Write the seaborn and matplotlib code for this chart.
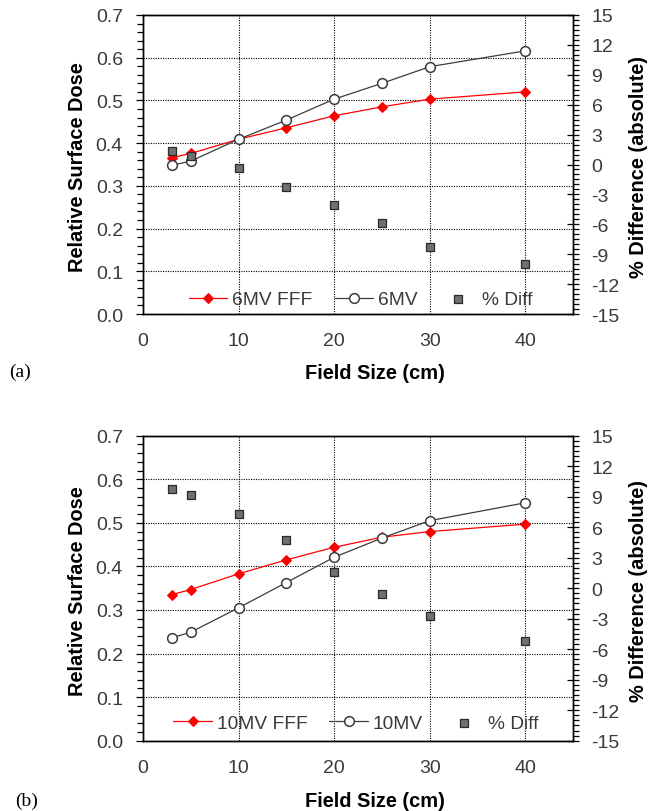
import matplotlib
matplotlib.use("Agg")
import matplotlib.pyplot as plt
from matplotlib.ticker import MultipleLocator, FixedLocator
import seaborn as sns

# Field sizes (cm) shared by both energies
field_size = [3, 5, 10, 15, 20, 25, 30, 40]

# 6 MV: relative surface dose and % difference
dose_6fff = [0.366, 0.376, 0.409, 0.436, 0.464, 0.485, 0.503, 0.520]
dose_6 = [0.348, 0.358, 0.409, 0.454, 0.503, 0.540, 0.579, 0.616]
diff_6 = [1.4, 0.9, -0.4, -2.3, -4.1, -5.9, -8.3, -10.0]

# 10 MV: relative surface dose and % difference
dose_10fff = [0.335, 0.347, 0.383, 0.415, 0.444, 0.467, 0.480, 0.497]
dose_10 = [0.236, 0.249, 0.305, 0.363, 0.421, 0.465, 0.505, 0.546]
diff_10 = [9.8, 9.2, 7.3, 4.7, 1.6, -0.6, -2.7, -5.2]

x_ticks = [0, 10, 20, 30, 40]
dose_ticks = [0.0, 0.1, 0.2, 0.3, 0.4, 0.5, 0.6, 0.7]
diff_ticks = [-15, -12, -9, -6, -3, 0, 3, 6, 9, 12, 15]

sns.set_style("white")
plt.rcParams["axes.unicode_minus"] = False
plt.rcParams["font.family"] = ["Liberation Sans", "DejaVu Sans"]

W, H = 651, 812
fig = plt.figure(figsize=(W / 100, H / 100), dpi=100)


def box(left, top, right, bottom):
    return [left / W, 1 - bottom / H, (right - left) / W, (bottom - top) / H]


TICK_COLOR = "#3a3a3a"
RED = "#ff0000"
GREY_LINE = "#3c3c3c"
LABEL_FONT = dict(fontsize=14.4, fontweight="bold",
                  family=["Liberation Sans", "DejaVu Sans"], color="black")

panels = [
    dict(rect=box(143, 16, 573, 315), fff=dose_6fff, ref=dose_6, diff=diff_6,
         names=("6MV FFF", "6MV"), tag="(a)", tag_xy=(20, 372),
         leg=(0.507, 0.048)),
    dict(rect=box(143, 436.7, 573, 741.7), fff=dose_10fff, ref=dose_10,
         diff=diff_10, names=("10MV FFF", "10MV"), tag="(b)",
         tag_xy=(27, 801.7), leg=(0.495, 0.058)),
]

for p in panels:
    ax = fig.add_axes(p["rect"])
    ax2 = ax.twinx()

    sns.lineplot(x=field_size, y=p["fff"], ax=ax, color=RED, linewidth=0.9,
                 marker="D", markersize=5.2, markeredgecolor=RED,
                 markerfacecolor=RED, label=p["names"][0], zorder=3)
    sns.lineplot(x=field_size, y=p["ref"], ax=ax, color=GREY_LINE,
                 linewidth=0.9, marker="o", markersize=7,
                 markerfacecolor="white", markeredgecolor=GREY_LINE,
                 markeredgewidth=1.1, label=p["names"][1], zorder=4)
    sns.scatterplot(x=field_size, y=p["diff"], ax=ax2, marker="s", s=30,
                    color="#707070", edgecolor="#2a2a2a", linewidth=0.9,
                    label="% Diff", zorder=5)
    for a in (ax, ax2):
        if a.get_legend() is not None:
            a.get_legend().remove()

    # left axis: relative surface dose
    ax.set_xlim(0, 45)
    ax.set_ylim(0, 0.7)
    ax.xaxis.set_major_locator(FixedLocator(x_ticks))
    ax.xaxis.set_minor_locator(MultipleLocator(2))
    ax.yaxis.set_major_locator(FixedLocator(dose_ticks))
    ax.yaxis.set_minor_locator(MultipleLocator(0.02))
    ax.set_yticklabels([f"{v:.1f}" for v in dose_ticks])
    ax.tick_params(axis="y", which="major", direction="out", length=5,
                   width=0.9, pad=9.4, labelsize=14, labelcolor=TICK_COLOR,
                   color="black")
    ax.tick_params(axis="y", which="minor", direction="out", length=4.3,
                   width=0.9, color="black")
    ax.tick_params(axis="x", which="major", direction="out", length=4,
                   width=0.9, pad=9.0, labelsize=14, labelcolor=TICK_COLOR,
                   color="black")
    ax.tick_params(axis="x", which="minor", direction="out", length=4,
                   width=0.9, color="black")
    ax.grid(True, which="major", color="black", linewidth=0.8,
            linestyle=(0, (1.0, 1.2)))

    # right axis: % difference
    ax2.set_ylim(-15, 15)
    ax2.yaxis.set_major_locator(FixedLocator(diff_ticks))
    ax2.yaxis.set_minor_locator(MultipleLocator(0.5))
    ax2.set_yticklabels([str(v) for v in diff_ticks])
    ax2.tick_params(axis="y", which="major", direction="inout", length=8.6,
                    width=0.9, pad=9.1, labelsize=14, labelcolor=TICK_COLOR,
                    color="black")
    ax2.tick_params(axis="y", which="minor", direction="out", length=4.3,
                    width=0.9, color="black")
    ax2.grid(False)

    for a in (ax, ax2):
        for s in a.spines.values():
            s.set_color("black")
            s.set_linewidth(1.0)

    ax.set_xlabel("Field Size (cm)", **LABEL_FONT)
    ax.xaxis.set_label_coords(0.54, -0.195)
    ax.xaxis.label.set_va("center")

    ax.set_ylabel("Relative Surface Dose", **LABEL_FONT)
    ax.yaxis.set_label_coords(-0.153, 0.495)
    ax.yaxis.label.set_va("center")

    ax2.set_ylabel("% Difference (absolute)", rotation=90, **LABEL_FONT)
    ax2.yaxis.set_label_coords(1.153, 0.495)
    ax2.yaxis.label.set_va("center")

    h1, l1 = ax.get_legend_handles_labels()
    h2, l2 = ax2.get_legend_handles_labels()
    leg = ax2.legend(h1 + h2, l1 + l2, loc="center",
                     bbox_to_anchor=p["leg"], ncol=3, frameon=False,
                     fontsize=13.8, handlelength=2.0, handletextpad=0.25,
                     columnspacing=1.15, numpoints=1, scatterpoints=1,
                     borderpad=0.1, borderaxespad=0.0)
    for t in leg.get_texts():
        t.set_color(TICK_COLOR)

    fig.text(p["tag_xy"][0] / W, 1 - p["tag_xy"][1] / H, p["tag"],
             ha="center", va="center", fontsize=14,
             family=["Liberation Serif", "DejaVu Serif"], color="black")

fig.savefig("out.png", dpi=100)
